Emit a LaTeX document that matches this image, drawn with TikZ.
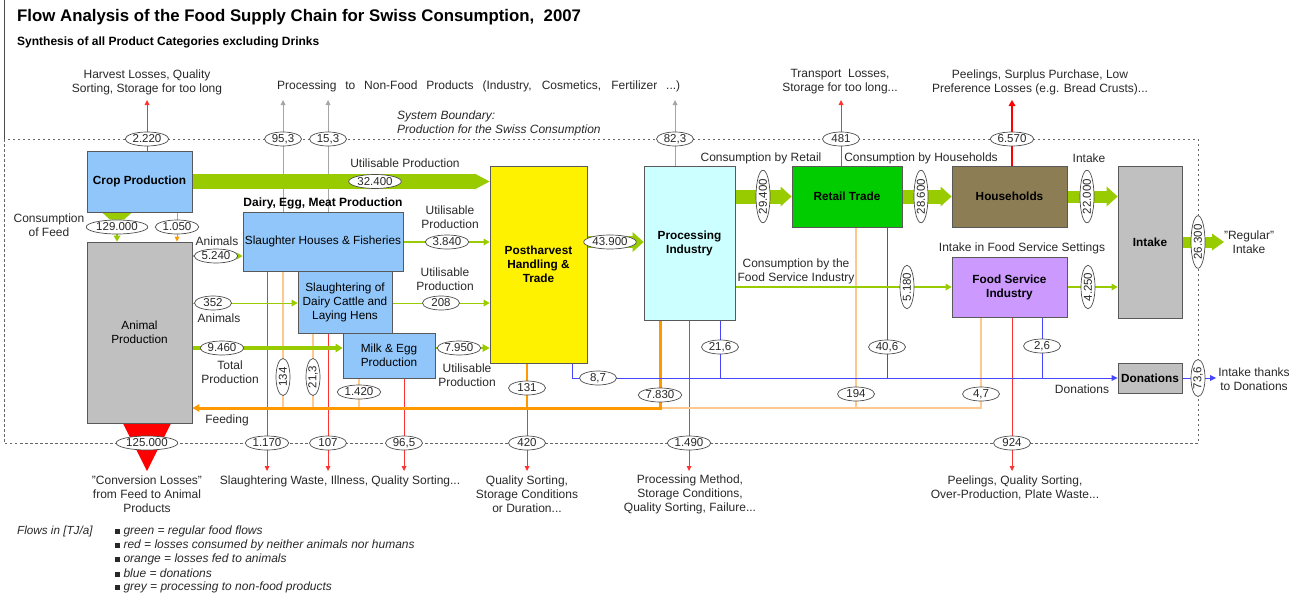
\documentclass[tikz,border=0pt]{standalone}
\usepackage{fontspec}
\setmainfont{Liberation Sans}
\usetikzlibrary{shapes.geometric,arrows.meta,calc}
\definecolor{boxblue}{RGB}{145,198,250}
\definecolor{flowgreen}{RGB}{153,204,0}
\definecolor{retailgreen}{RGB}{0,204,0}
\definecolor{hhbrown}{RGB}{140,125,85}
\definecolor{fsipurple}{RGB}{204,153,255}
\definecolor{boxgray}{RGB}{192,192,192}
\definecolor{proccyan}{RGB}{204,255,255}
\definecolor{lossred}{RGB}{255,50,50}
\definecolor{feedorange}{RGB}{255,153,0}
\definecolor{feedlight}{RGB}{255,200,140}
\definecolor{donblue}{RGB}{70,70,255}
\definecolor{nonfood}{RGB}{165,165,165}
\definecolor{inktext}{RGB}{40,40,40}
\pgfdeclarelayer{background}
\pgfsetlayers{background,main}
\tikzstyle{stage}=[
      rectangle,
      draw=black!65,
      line width=0.8pt,
      inner sep=0pt,
      align=center,
      text=black,
      font=\fontsize{11.8}{14}\selectfont\bfseries
      ]
\tikzstyle{plainstage}=[stage, font=\fontsize{11.8}{14}\selectfont]
\tikzstyle{amount}=[
      ellipse,
      draw=black!70,
      fill=white,
      line width=0.7pt,
      inner xsep=1pt,
      inner ysep=0pt,
      minimum height=14pt,
      minimum width=37pt,
      text=inktext,
      font=\fontsize{11.5}{12}\selectfont
      ]
\tikzstyle{note}=[inner sep=0pt, align=center, text=inktext, font=\fontsize{12}{14}\selectfont]
\tikzstyle{band}=[flowgreen, line width=14pt, -{Triangle[length=11pt,width=20pt,line width=0pt]}]
\tikzstyle{flow}=[flowgreen, line width=1.6pt, -{Triangle[length=6pt,width=7pt,line width=0pt]}]
\tikzstyle{loss}=[lossred, line width=0.8pt, -{Triangle[length=5pt,width=5pt,line width=0pt]}]
\tikzstyle{nonfoodflow}=[nonfood, line width=0.9pt, -{Triangle[length=5pt,width=5pt,line width=0pt]}]
\tikzstyle{feed}=[feedlight, line width=1.2pt]
\tikzstyle{donation}=[donblue, line width=0.9pt]
\tikzstyle{boundary}=[black!60, line width=0.8pt, dash pattern=on 2.5pt off 2.5pt]

\begin{document}
\begin{tikzpicture}[x=1pt, y=-1pt]
\useasboundingbox (0,0) rectangle (1298,597);

\node[anchor=west, inner sep=0pt, font=\fontsize{16.8}{19}\selectfont\bfseries] (title) at (17,17)
  {Flow Analysis of the Food Supply Chain for Swiss Consumption,\ \ 2007};
\node[anchor=west, inner sep=0pt, font=\fontsize{12}{14}\selectfont\bfseries] (subtitle) at (17,42)
  {Synthesis of all Product Categories excluding Drinks};

\coordinate (lossTop) at (0,100);
\coordinate (lossBot) at (0,471);
\coordinate (feedY) at (0,408);
\coordinate (regOut) at (1224,242);
\coordinate (donOut) at (1216,378);

\node[stage, fill=boxblue, minimum width=105pt, minimum height=61pt] (crop) at (139.5,181.5) {Crop Production};
\node[plainstage, fill=boxgray, minimum width=105pt, minimum height=181pt] (animal) at (139.5,332.5) {Animal\\Production};
\node[plainstage, fill=boxblue, minimum width=160pt, minimum height=59pt] (slh) at (323,241.5) {Slaughter Houses \& Fisheries};
\node[plainstage, fill=boxblue, minimum width=94pt, minimum height=62pt] (sld) at (345,302) {Slaughtering of\\Dairy Cattle and\\Laying Hens};
\node[plainstage, fill=boxblue, minimum width=92pt, minimum height=45pt] (milk) at (389,355.5) {Milk \& Egg\\Production};
\node[stage, fill=yellow, minimum width=97pt, minimum height=197pt] (post) at (538.5,264.5) {Postharvest\\Handling \&\\Trade};
\node[stage, fill=proccyan, minimum width=91pt, minimum height=154pt] (proc) at (689.5,243) {Processing\\Industry};
\node[stage, fill=retailgreen, minimum width=110pt, minimum height=61pt] (retail) at (847,196.5) {Retail Trade};
\node[stage, fill=hhbrown, minimum width=115pt, minimum height=61pt] (hh) at (1009.5,196.5) {Households};
\node[stage, fill=fsipurple, minimum width=115pt, minimum height=60pt] (fsi) at (1009.5,287) {Food Service\\Industry};
\node[stage, fill=boxgray, minimum width=64pt, minimum height=152pt] (intake) at (1150,242) {Intake};
\node[stage, fill=boxgray, minimum width=64pt, minimum height=30pt] (don) at (1150,378) {Donations};

\node[amount] (a2220) at (147,139) {2.220};
\node[amount] (a953) at (283,139) {95,3};
\node[amount] (a153) at (328,139) {15,3};
\node[amount] (a823) at (675,139) {82,3};
\node[amount] (a481) at (841,139) {481};
\node[amount] (a6570) at (1012,139) {6.570};
\node[amount] (a125) at (147,443) {125.000};
\node[amount] (a1170) at (267,443) {1.170};
\node[amount] (a107) at (328,443) {107};
\node[amount] (a965) at (404,443) {96,5};
\node[amount] (a420) at (527,443) {420};
\node[amount] (a1490) at (689,443) {1.490};
\node[amount] (a924) at (1012,443) {924};
\node[amount] (a32400) at (375,181.5) {32.400};
\node[amount] (a129) at (117,227) {129.000};
\node[amount] (a1050) at (177,227) {1.050};
\node[amount] (a5240) at (216,256) {5.240};
\node[amount] (a352) at (213,303) {352};
\node[amount] (a9460) at (222,348) {9.460};
\node[amount] (a3840) at (447,242) {3.840};
\node[amount] (a208) at (441,303) {208};
\node[amount] (a7950) at (459,348) {7.950};
\node[amount] (a43900) at (610,242) {43.900};
\node[amount, rotate=90] (a134) at (283,377) {134};
\node[amount, rotate=90] (a213) at (313,377) {21,3};
\node[amount] (a1420) at (359,392) {1.420};
\node[amount] (a131) at (527,388) {131};
\node[amount] (a87) at (598,378) {8,7};
\node[amount] (a7830) at (660,395) {7.830};
\node[amount] (a216) at (720,347) {21,6};
\node[amount] (a194) at (856,394) {194};
\node[amount] (a406) at (887,347) {40,6};
\node[amount] (a47) at (981,394) {4,7};
\node[amount] (a26) at (1042,346) {2,6};
\node[amount, rotate=90] (a29400) at (763,196.5) {29.400};
\node[amount, rotate=90] (a28600) at (921,196.5) {28.600};
\node[amount, rotate=90] (a22000) at (1087,196.5) {22.000};
\node[amount, rotate=90] (a5180) at (907,287) {5.180};
\node[amount, rotate=90] (a4250) at (1088,287) {4.250};
\node[amount, rotate=90] (a26300) at (1198,242) {26.300};
\node[amount, rotate=90] (a736) at (1198,378) {73,6};

\begin{pgfonlayer}{background}
\draw[boundary] (4,139) rectangle (1198,443);
\draw[black!70, line width=1pt] (4,0) -- (4,139);

\draw[loss] (crop.north -| a2220) -- (a2220 |- lossTop);
\draw[loss] (retail.north -| a481) -- (a481 |- lossTop);
\draw[loss, red, line width=2pt, -{Triangle[length=6pt,width=7pt,line width=0pt]}] (hh.north -| a6570) -- (a6570 |- lossTop);
\draw[nonfoodflow] (slh.north -| a953) -- (a953 |- lossTop);
\draw[nonfoodflow] (slh.north -| a153) -- (a153 |- lossTop);
\draw[nonfoodflow] (proc.north -| a823) -- (a823 |- lossTop);

\draw[loss] (slh.south -| a1170) -- (a1170 |- lossBot);
\draw[loss] (sld.south -| a107) -- (a107 |- lossBot);
\draw[loss] (milk.south -| a965) -- (a965 |- lossBot);
\draw[loss] (post.south -| a420) -- (a420 |- lossBot);
\draw[loss] (proc.south -| a1490) -- (a1490 |- lossBot);
\draw[loss] (fsi.south -| a924) -- (a924 |- lossBot);
\fill[red] ($(animal.south -| a125)+(-24,0)$) -- ($(animal.south -| a125)+(24,0)$) -- (a125 |- lossBot) -- cycle;

\draw[feed, feedorange, line width=1pt, -{Triangle[length=5pt,width=5pt,line width=0pt]}] (crop.south -| a1050) -- (animal.north -| a1050);
\draw[feed] (slh.south -| a134) -- (a134 |- feedY);
\draw[feed] (sld.south -| a213) -- (a213 |- feedY);
\draw[feed] (milk.south -| a1420) -- (a1420 |- feedY);
\draw[feed, feedorange] (post.south -| a131) -- (a131 |- feedY);
\draw[feed] (retail.south -| a194) -- (a194 |- feedY);
\draw[feed] (fsi.south -| a47) -- (a47 |- feedY) -- (a7830 |- feedY);
\draw[feedorange, line width=3pt, -{Triangle[length=7pt,width=8pt,line width=0pt]}] (proc.south -| a7830) -- (a7830 |- feedY) -- (animal.east |- feedY);

\draw[donation, -{Triangle[length=6pt,width=6pt,line width=0pt]}] ($(post.south east)+(-15,0)$) |- (don.west);
\draw[donation] (proc.south -| a216) -- (a216 |- don.west);
\draw[donation] (retail.south -| a406) -- (a406 |- don.west);
\draw[donation] (fsi.south -| a26) -- (a26 |- don.west);
\draw[donation, -{Triangle[length=6pt,width=6pt,line width=0pt]}] (don.east) -- (donOut);

\fill[flowgreen] ($(crop.south -| a129)+(-15,0)$) -- ($(crop.south -| a129)+(15,0)$) -- ($(a129.north)+(7,0)$) -- ($(a129.north)+(-7,0)$) -- cycle;
\draw[flow] (a129.south) -- (animal.north -| a129);
\draw[flow, line width=1.4pt] (animal.east |- a5240) -- (slh.west |- a5240);
\draw[flow, line width=0.8pt] (animal.east |- a352) -- (sld.west |- a352);
\draw[flow, line width=3.5pt, -{Triangle[length=7pt,width=9pt,line width=0pt]}] (animal.east |- a9460) -- (milk.west |- a9460);
\draw[flow] (slh.east |- a3840) -- (post.west |- a3840);
\draw[flow, line width=1pt] (sld.east |- a208) -- (post.west |- a208);
\draw[flow, line width=2.5pt, -{Triangle[length=7pt,width=8pt,line width=0pt]}] (milk.east |- a7950) -- (post.west |- a7950);
\draw[flow] (proc.east |- a5180) -- (fsi.west |- a5180);
\draw[flow] (fsi.east |- a4250) -- (intake.west |- a4250);

\draw[band, line width=15pt, -{Triangle[length=15pt,width=16pt,line width=0pt]}] (crop.east |- a32400) -- (post.west |- a32400);
\draw[band, line width=12pt] (post.east |- a43900) -- (proc.west |- a43900);
\draw[band] (proc.east |- a29400) -- (retail.west |- a29400);
\draw[band] (retail.east |- a28600) -- (hh.west |- a28600);
\draw[band, line width=12pt] (hh.east |- a22000) -- (intake.west |- a22000);
\draw[band, line width=11pt, -{Triangle[length=12pt,width=17pt,line width=0pt]}] (intake.east |- a26300) -- (regOut);
\end{pgfonlayer}

\node[note] (lblHarvest) at (147,82) {Harvest Losses, Quality\\Sorting, Storage for too long};
\node[note, anchor=west] (lblNonfood) at (277,86) {\makebox[403pt][s]{Processing to Non-Food Products (Industry, Cosmetics, Fertilizer ...)}};
\node[note] (lblTransport) at (840,82) {Transport\ \ Losses,\\Storage for too long...};
\node[note] (lblPeel) at (1040,82) {Peelings, Surplus Purchase, Low\\Preference Losses (e.g. Bread Crusts)...};
\node[note, anchor=west, align=left, font=\fontsize{12}{14}\selectfont\itshape] (lblBoundary) at (397,123.5) {System Boundary:\\Production for the Swiss Consumption};

\node[note] (lblUtilA) at (405,163) {Utilisable Production};
\node[note] (lblRetail) at (761,158) {Consumption by Retail};
\node[note] (lblHouse) at (921,158) {Consumption by Households};
\node[note] (lblIntake) at (1089,158) {Intake};
\node[note, font=\fontsize{12}{14}\selectfont\bfseries, text=black] (lblDairy) at (323,203) {Dairy, Egg, Meat Production};
\node[note] (lblFeedUse) at (49,225) {Consumption\\of Feed};
\node[note] (lblAnimalsA) at (217,241) {Animals};
\node[note] (lblAnimalsB) at (219,318) {Animals};
\node[note] (lblTotal) at (230,372) {Total\\Production};
\node[note] (lblUtilB) at (450,217.5) {Utilisable\\Production};
\node[note] (lblUtilC) at (445,279) {Utilisable\\Production};
\node[note] (lblUtilD) at (467,375) {Utilisable\\Production};
\node[note] (lblFoodSrv) at (796,271) {Consumption by the\\Food Service Industry};
\node[note] (lblFsiIntake) at (1022,248) {Intake in Food Service Settings};
\node[note] (lblRegular) at (1249,242) {"Regular"\\Intake};
\node[note] (lblThanks) at (1254,379) {Intake thanks\\to Donations};
\node[note] (lblDon) at (1082,389) {Donations};
\node[note] (lblFeeding) at (227,420) {Feeding};

\node[note] (lblConv) at (147,494.5) {"Conversion Losses"\\from Feed to Animal\\Products};
\node[note] (lblSlaughter) at (340,481) {Slaughtering Waste, Illness, Quality Sorting...};
\node[note] (lblQuality) at (527,494.5) {Quality Sorting,\\Storage Conditions\\or Duration...};
\node[note] (lblProcLoss) at (690,494.5) {Processing Method,\\Storage Conditions,\\Quality Sorting, Failure...};
\node[note] (lblPlate) at (1015,487.5) {Peelings, Quality Sorting,\\Over-Production, Plate Waste...};

\node[note, anchor=west, font=\fontsize{11.7}{14}\selectfont\itshape] (flowsin) at (17,531) {Flows in [TJ/a]};
\foreach \txt [count=\i from 0] in {green = regular food flows, red = losses consumed by neither animals nor humans, orange = losses fed to animals, blue = donations, grey = processing to non-food products}
  \node[note, anchor=west, font=\fontsize{12}{14}\selectfont\itshape] (legend\i) at (115,{531+14*\i}) {\rule[0.5pt]{5pt}{5pt}\ \txt};
\end{tikzpicture}
\end{document}
